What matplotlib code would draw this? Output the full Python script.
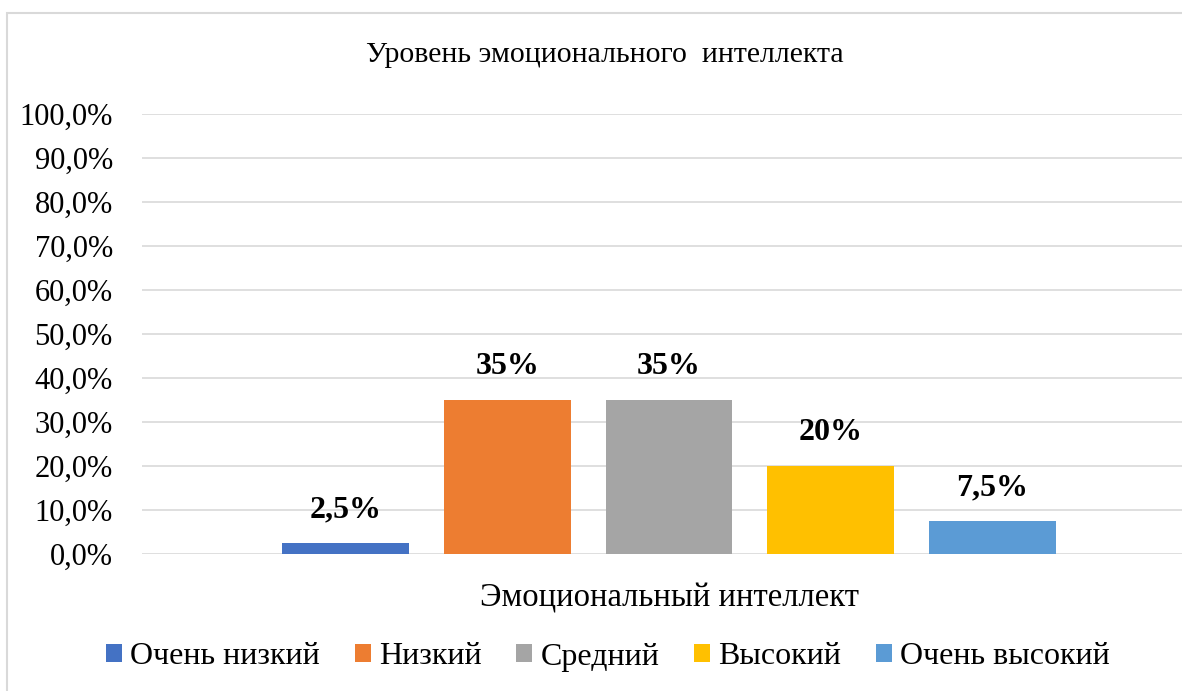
import numpy as np
import matplotlib
matplotlib.use("Agg")
import matplotlib.pyplot as plt
from matplotlib.patches import Rectangle

plt.rcParams['font.family'] = ['Liberation Serif', 'DejaVu Serif']

title = "Уровень эмоционального  интеллекта"
xlabel = "Эмоциональный интеллект"
levels = ["Очень низкий", "Низкий", "Средний", "Высокий", "Очень высокий"]
shares = [0.025, 0.35, 0.35, 0.20, 0.075]
value_labels = ["2,5%", "35%", "35%", "20%", "7,5%"]
colors = ["#4472C4", "#ED7D31", "#A5A5A5", "#FFC000", "#5B9BD5"]
yticks = [0.0, 0.1, 0.2, 0.3, 0.4, 0.5, 0.6, 0.7, 0.8, 0.9, 1.0]
ytick_labels = ["0,0%", "10,0%", "20,0%", "30,0%", "40,0%", "50,0%",
                "60,0%", "70,0%", "80,0%", "90,0%", "100,0%"]

W, H = 1182, 691
fig = plt.figure(figsize=(W / 100, H / 100), dpi=100)
fig.patch.set_facecolor("white")

# outer chart border (light gray, runs off the right/bottom edge)
fig.patches.append(Rectangle((7 / W, -0.05), 1.1, 1 - 13 / H + 0.05,
                             transform=fig.transFigure, fill=False,
                             edgecolor="#d9d9d9", lw=1.5))

ax = fig.add_axes([142 / W, (H - 554) / H, (1196 - 142) / W, 440 / H])
x = np.arange(len(levels))
bars = ax.bar(x, shares, width=0.786, color=colors, zorder=3)
for i, b in enumerate(bars):
    ax.text(b.get_x() + b.get_width() / 2, shares[i] + 0.043, value_labels[i],
            ha="center", va="bottom", fontsize=23, fontweight="bold")

ax.set_xlim(-1.262, 5.262)
ax.set_ylim(0, 1.0)
ax.set_yticks(yticks)
ax.set_yticklabels(ytick_labels, fontsize=22)
ax.set_xticks([])
ax.tick_params(axis="y", length=0, pad=21)
ax.grid(axis="y", color="#d9d9d9", lw=1.2, zorder=0)
for s in ax.spines.values():
    s.set_visible(False)

fig.text(605 / W, 1 - 55 / H, title, ha="center", va="center", fontsize=21.5)
fig.text(670 / W, 1 - 598 / H, xlabel, ha="center", va="center", fontsize=23.5)

leg = fig.legend(handles=list(bars), labels=levels, loc="center",
                 bbox_to_anchor=(608 / W, 1 - 657 / H), ncol=5, frameon=False,
                 fontsize=23, handlelength=0.5, handleheight=0.5,
                 handletextpad=0.25, columnspacing=1.1)

fig.savefig("out.png", dpi=100)
